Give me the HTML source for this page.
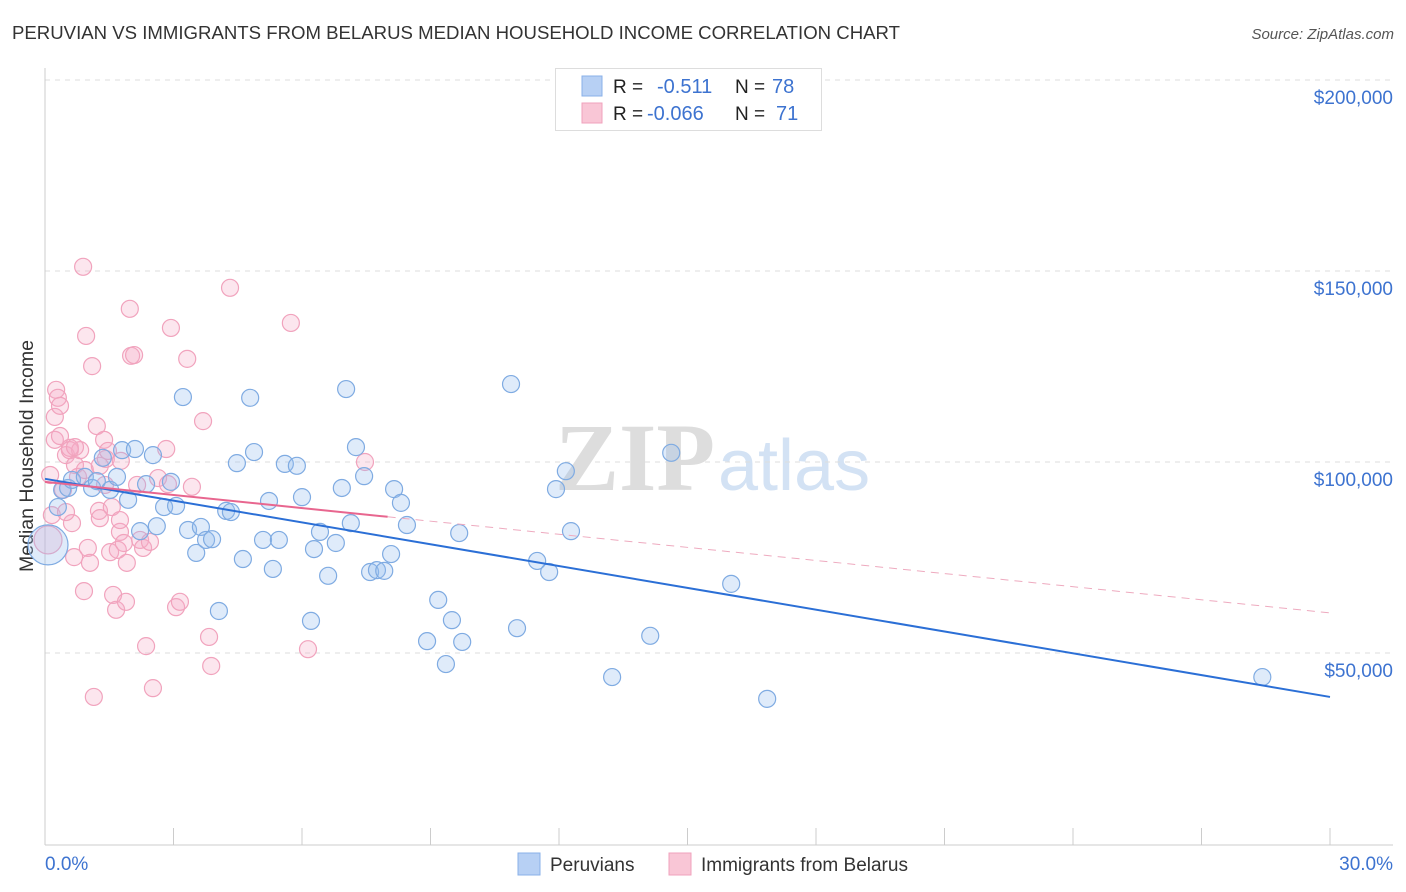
<!DOCTYPE html>
<html><head><meta charset="utf-8"><style>
body{margin:0;background:#fff;font-family:"Liberation Sans",sans-serif;}
#wrap{position:relative;width:1406px;height:892px;overflow:hidden;}
</style></head><body>
<div id="wrap">
<svg id="svg" width="1406" height="892" xmlns="http://www.w3.org/2000/svg">
<text x="12" y="39" font-size="18.5" fill="#333" textLength="888" lengthAdjust="spacingAndGlyphs">PERUVIAN VS IMMIGRANTS FROM BELARUS MEDIAN HOUSEHOLD INCOME CORRELATION CHART</text>
<text x="1394" y="39" font-size="15" fill="#555" text-anchor="end" font-style="italic">Source: ZipAtlas.com</text>
<text x="33" y="456" font-size="19.5" fill="#333" text-anchor="middle" transform="rotate(-90 33 456)">Median Household Income</text>
<g>
<text x="555" y="490" font-size="96" fill="#ddd" font-family="Liberation Serif,serif" font-weight="bold">ZIP</text>
<text x="718" y="490" font-size="72" fill="#d3e2f4">atlas</text>
</g>
<g id="grid"></g><g id="axes"></g><g id="pink"></g><g id="blue"></g><g id="lines"></g>
<g>
<rect x="555.5" y="68.5" width="266" height="62" fill="#fff" stroke="#ddd"/>
<rect x="582" y="76" width="20" height="20" fill="#b7d0f4" stroke="#8ab0e8"/>
<rect x="582" y="103" width="20" height="20" fill="#f9c6d6" stroke="#f0a2bc"/>
<text x="613" y="93" font-size="19" fill="#222">R = </text><text x="657" y="93" font-size="20" fill="#3d73d0">-0.511</text>
<text x="735" y="93" font-size="19" fill="#222">N = </text><text x="772" y="93" font-size="20" fill="#3d73d0">78</text>
<text x="613" y="120" font-size="19" fill="#222">R = </text><text x="647" y="120" font-size="20" fill="#3d73d0">-0.066</text>
<text x="735" y="120" font-size="19" fill="#222">N = </text><text x="776" y="120" font-size="20" fill="#3d73d0">71</text>
</g>
<g>
<rect x="518" y="853" width="22" height="22" fill="#b7d0f4" stroke="#8ab0e8"/>
<text x="550" y="871" font-size="19" fill="#333">Peruvians</text>
<rect x="669" y="853" width="22" height="22" fill="#f9c6d6" stroke="#f0a2bc"/>
<text x="701" y="871" font-size="19" fill="#333">Immigrants from Belarus</text>
</g>
</svg>
</div>
<script>
const blueX=[0.07,0.30,0.40,0.54,0.63,0.93,1.10,1.21,1.35,1.52,1.68,1.80,1.94,2.10,2.22,2.36,2.52,2.61,2.78,2.94,3.06,3.22,3.34,3.53,3.64,3.76,3.90,4.06,4.23,4.34,4.48,4.62,4.79,4.88,5.09,5.23,5.32,5.46,5.60,5.88,6.00,6.21,6.28,6.42,6.61,6.79,6.93,7.03,7.14,7.26,7.45,7.59,7.75,7.92,8.08,8.15,8.31,8.45,8.92,9.18,9.36,9.50,9.67,9.74,10.88,11.02,11.49,11.77,11.93,12.16,12.28,13.24,14.13,14.62,16.02,16.86,28.42];
const blueY=[78.3,88.2,92.7,93.2,95.3,96.1,93.2,95.0,101.1,92.7,96.1,103.1,90.1,103.4,81.9,94.2,101.8,83.2,88.2,94.8,88.5,117.0,82.2,76.2,83.0,79.6,79.8,61.0,87.2,86.9,99.7,74.6,116.8,102.6,79.6,89.8,72.0,79.6,99.5,99.0,90.8,58.4,77.2,81.7,70.2,78.8,93.2,119.1,84.0,103.9,96.3,71.2,71.7,71.5,75.9,92.9,89.3,83.5,53.1,63.9,47.1,58.6,81.4,52.9,120.4,56.5,74.1,71.2,92.9,97.6,81.9,43.7,54.5,102.4,68.1,38.0,43.7];
const pinkX=[0.07,0.16,0.12,0.23,0.26,0.30,0.23,0.35,0.42,0.49,0.58,0.63,0.68,0.70,0.77,0.82,0.89,0.91,0.96,1.00,1.05,1.10,1.14,1.21,1.26,1.28,1.38,1.42,1.47,1.52,1.59,1.66,1.70,1.75,1.77,1.84,1.89,1.91,1.98,2.01,2.08,2.15,2.22,2.29,2.36,2.45,2.52,2.64,2.83,2.87,2.94,3.06,3.15,3.32,3.43,3.69,3.83,3.88,4.32,5.74,6.14,7.47,0.35,0.49,0.58,0.70,0.93,1.28,1.40,1.56,1.75];
const pinkY=[79.6,86.1,96.6,105.8,118.9,116.8,111.8,106.8,92.7,101.8,103.1,84.0,75.1,99.2,96.1,103.1,151.1,66.2,133.0,77.5,73.6,125.1,38.5,109.4,87.2,85.3,105.8,100.8,102.9,76.4,65.2,61.3,77.0,81.7,100.3,78.8,63.4,73.6,140.1,127.8,128.0,94.0,79.6,77.5,51.8,79.1,40.8,95.8,103.4,94.2,135.1,62.0,63.4,127.0,93.5,110.7,54.2,46.6,145.6,136.4,51.0,100.0,114.7,86.9,103.7,103.9,97.9,99.0,94.0,88.2,84.8];
const blueTrend=[95.6,38.5];
const pinkTrend=[94.8,60.5];
const pinkSolidEnd=[8.0];
const yTicks=[50,100,150,200];
const yTickLabels=["$50,000","$100,000","$150,000","$200,000"];
const NS="http://www.w3.org/2000/svg";
const X0=45,X1=1330,XMAX=30;
function sx(v){return X0+(v/XMAX)*(X1-X0);}
function sy(k){return 653-(k-50)*191/50;}
function mk(tag,attrs,parent){const e=document.createElementNS(NS,tag);for(const k in attrs)e.setAttribute(k,attrs[k]);document.getElementById(parent).appendChild(e);return e;}
yTicks.forEach((t,i)=>{
 const l=mk('line',{x1:45,x2:1393,y1:sy(t),y2:sy(t),stroke:'#ddd','stroke-dasharray':'5,5'},'grid');
 
 
 const tx=mk('text',{x:1393,y:sy(t)+24,'font-size':19,fill:'#3d73d0','text-anchor':'end'},'grid');
 tx.textContent=yTickLabels[i];
 
 
});
let a=mk('line',{x1:45,x2:45,y1:68,y2:845,stroke:'#ccc'},'axes');


a=mk('line',{x1:45,x2:1393,y1:845,y2:845,stroke:'#ccc'},'axes');


for(let i=1;i<=10;i++){const t=mk('line',{x1:sx(i*3),x2:sx(i*3),y1:828,y2:845,stroke:'#ccc'},'axes');
 
 }
let xl=mk('text',{x:45,y:870,'font-size':19,fill:'#3d73d0'},'axes');xl.textContent='0.0%';


xl=mk('text',{x:1393,y:870,'font-size':19,fill:'#3d73d0','text-anchor':'end'},'axes');xl.textContent='30.0%';


pinkX.forEach((x,i)=>{const c=mk('circle',{cx:sx(x),cy:sy(pinkY[i]),r:i==0?14:8.5,fill:'rgba(246,172,198,0.3)',stroke:'#f1a3bd','stroke-width':1.2},'pink');
 
 });
blueX.forEach((x,i)=>{const c=mk('circle',{cx:sx(x),cy:sy(blueY[i]),r:i==0?20:8.5,fill:'rgba(150,190,240,0.3)',stroke:'#7fabe2','stroke-width':1.2},'blue');
 
 });
let ln=mk('line',{x1:sx(0),y1:sy(blueTrend[0]),x2:sx(30),y2:sy(blueTrend[1]),stroke:'#2b6fd6','stroke-width':2},'lines');


const pe=pinkTrend[0]+(pinkTrend[1]-pinkTrend[0])*pinkSolidEnd[0]/30;
ln=mk('line',{x1:sx(0),y1:sy(pinkTrend[0]),x2:sx(pinkSolidEnd[0]),y2:sy(pe),stroke:'#e8668f','stroke-width':2},'lines');


ln=mk('line',{x1:sx(pinkSolidEnd[0]),y1:sy(pe),x2:sx(30),y2:sy(pinkTrend[1]),stroke:'#eeaabf','stroke-width':1,'stroke-dasharray':'8,6'},'lines');


</script>
</body></html>
